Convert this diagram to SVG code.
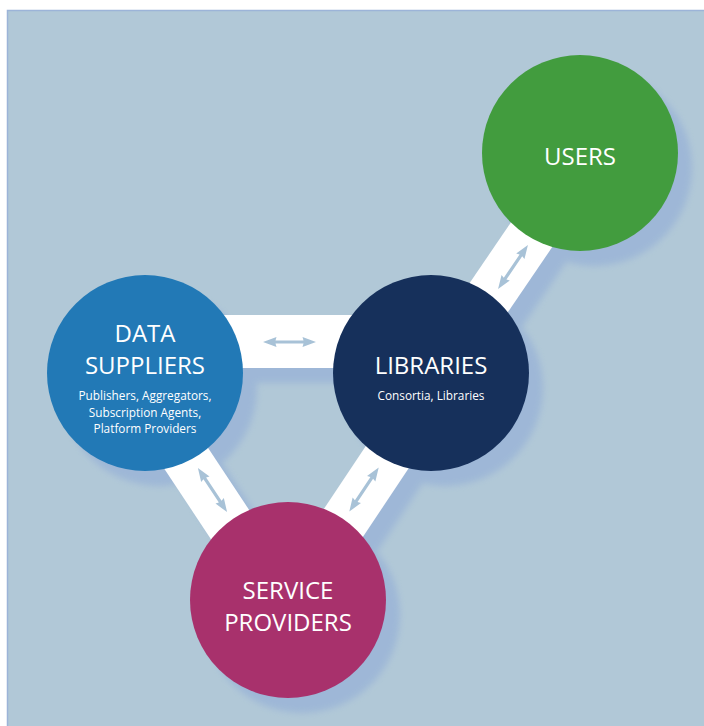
<svg xmlns="http://www.w3.org/2000/svg" width="704" height="726" viewBox="0 0 704 726">
  <defs>
    <style>
      .t { font-family: "Open Sans", "Noto Sans", "DejaVu Sans", sans-serif; fill: #ffffff; text-anchor: middle; }
      .big { font-size: 24px; }
      .small { font-size: 11.8px; }
      .band { stroke: #ffffff; fill: none; }
      .sband { stroke: #9ab4d7; fill: none; }
      .arrow { fill: #a8c2d7; }
    </style>
    <filter id="soft" x="-20%" y="-20%" width="140%" height="140%">
      <feGaussianBlur stdDeviation="3"/>
    </filter>
    <polygon id="dbl" points="-26.5,0 -13,-5 -14,-1.6 14,-1.6 13,-5 26.5,0 13,5 14,1.6 -14,1.6 -13,5"/>
  </defs>

  <!-- panel -->
  <rect x="7.5" y="10.5" width="700" height="720" fill="#b1c8d7" stroke="#9cb4d8" stroke-width="1.5"/>

  <!-- shadows -->
  <g id="shadows" filter="url(#soft)" opacity="0.8" transform="translate(14,15)">
    <line class="sband" x1="145" y1="341.5" x2="431" y2="341.5" stroke-width="53"/>
    <line class="sband" x1="129" y1="372" x2="280" y2="600" stroke-width="48"/>
    <line class="sband" x1="444" y1="372" x2="292" y2="600" stroke-width="48"/>
    <line class="sband" x1="588" y1="152" x2="438" y2="372" stroke-width="48"/>
    <circle cx="580" cy="153" r="98" fill="#9ab4d7"/>
    <circle cx="145" cy="373" r="98" fill="#9ab4d7"/>
    <circle cx="431" cy="373" r="98" fill="#9ab4d7"/>
    <circle cx="288" cy="600" r="98" fill="#9ab4d7"/>
  </g>

  <!-- connectors -->
  <g id="connectors">
    <line class="band" x1="145" y1="341.5" x2="431" y2="341.5" stroke-width="53"/>
    <line class="band" x1="129" y1="372" x2="280" y2="600" stroke-width="48"/>
    <line class="band" x1="444" y1="372" x2="292" y2="600" stroke-width="48"/>
    <line class="band" x1="588" y1="152" x2="438" y2="372" stroke-width="48"/>
    <use href="#dbl" class="arrow" transform="translate(289.5,342)"/>
    <use href="#dbl" class="arrow" transform="translate(212.5,490) rotate(56.6)"/>
    <use href="#dbl" class="arrow" transform="translate(364,489.5) rotate(123.7)"/>
    <use href="#dbl" class="arrow" transform="translate(513,267) rotate(124.3)"/>
  </g>

  <!-- nodes -->
  <g id="users">
    <circle cx="580" cy="153" r="98" fill="#429c3e"/>
    <text class="t big" x="580" y="165">USERS</text>
  </g>

  <g id="data-suppliers">
    <circle cx="145" cy="373" r="98" fill="#2279b6"/>
    <text class="t big" x="145" y="342">DATA</text>
    <text class="t big" x="145" y="374">SUPPLIERS</text>
    <text class="t small" x="145" y="400">Publishers, Aggregators,</text>
    <text class="t small" x="145" y="417">Subscription Agents,</text>
    <text class="t small" x="145" y="433">Platform Providers</text>
  </g>

  <g id="libraries">
    <circle cx="431" cy="373" r="98" fill="#16305b"/>
    <text class="t big" x="431" y="374">LIBRARIES</text>
    <text class="t small" x="431" y="400">Consortia, Libraries</text>
  </g>

  <g id="service-providers">
    <circle cx="288" cy="600" r="98" fill="#a8316c"/>
    <text class="t big" x="288" y="599">SERVICE</text>
    <text class="t big" x="288" y="631">PROVIDERS</text>
  </g>
</svg>
